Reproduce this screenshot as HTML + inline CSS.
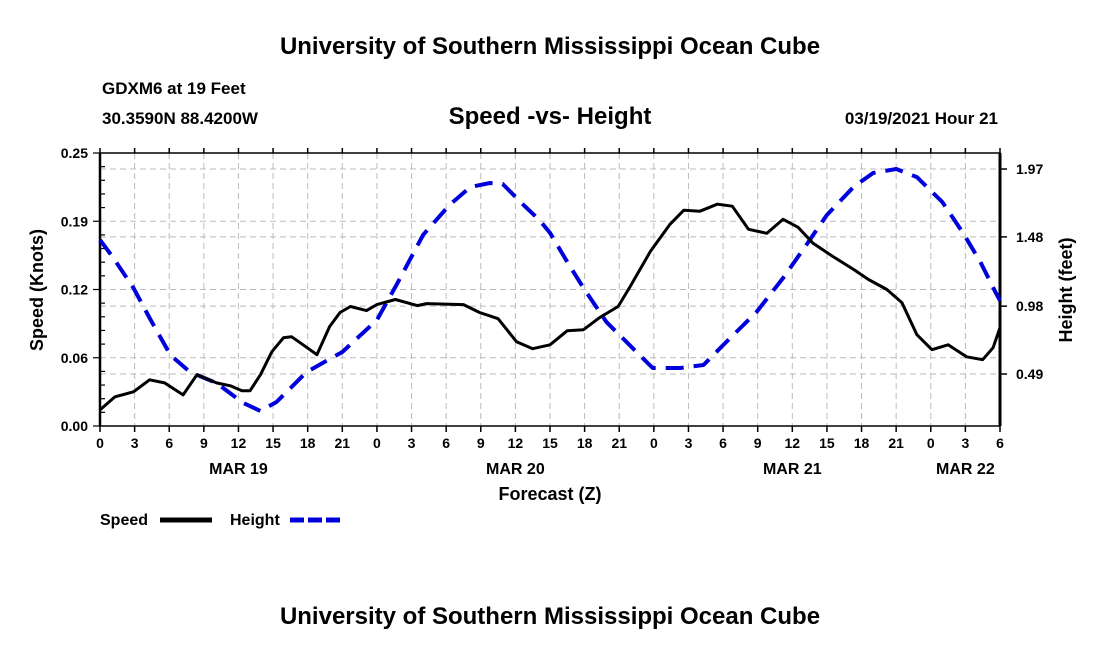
<!DOCTYPE html>
<html><head><meta charset="utf-8"><style>
body{margin:0;background:#fff;}
svg{display:block;font-family:"Liberation Sans",Arial,sans-serif;}
</style></head><body>
<svg id="chart" width="1100" height="650" viewBox="0 0 1100 650">
<text x="550" y="54" text-anchor="middle" font-size="24" font-weight="bold">University of Southern Mississippi Ocean Cube</text>
<text x="102" y="94" font-size="17" font-weight="bold">GDXM6 at 19 Feet</text>
<text x="102" y="124" font-size="17" font-weight="bold">30.3590N 88.4200W</text>
<text x="550" y="124" text-anchor="middle" font-size="24" font-weight="bold">Speed -vs- Height</text>
<text x="998" y="124" text-anchor="end" font-size="17" font-weight="bold">03/19/2021 Hour 21</text>
<g id="grid"></g>
<g id="axes"></g>
<g id="series"></g>
<text transform="translate(43,290) rotate(-90)" text-anchor="middle" font-size="18" font-weight="bold">Speed (Knots)</text>
<text transform="translate(1072,290) rotate(-90)" text-anchor="middle" font-size="18" font-weight="bold">Height (feet)</text>
<text x="550" y="500" text-anchor="middle" font-size="18" font-weight="bold">Forecast (Z)</text>
<g>
<g><text x="100" y="525" font-size="16" font-weight="bold">Speed</text><line x1="160" y1="520" x2="212" y2="520" stroke="#000" stroke-width="5"/></g>
<g><text x="230" y="525" font-size="16" font-weight="bold">Height</text><line x1="290" y1="520" x2="342" y2="520" stroke="#0000dd" stroke-width="5" stroke-dasharray="14,4"/></g>
</g>
<text x="550" y="624" text-anchor="middle" font-size="24" font-weight="bold">University of Southern Mississippi Ocean Cube</text>
</svg>
<script>
const speedHours=[0,1.3,2.9,4.3,5.6,7.2,8.4,10.1,11.3,12.3,13,13.9,14.9,15.9,16.6,17.6,18.8,19.9,20.8,21.7,23.1,24,25.6,27.5,28.3,31.5,32.9,34.5,36.1,37.5,39,40.5,41.9,43.3,44.9,45.9,47.7,49.4,50.6,52,53.5,54.8,56.2,57.8,59.2,60.5,61.8,63.5,65.3,66.6,68.2,69.5,70.8,72.1,73.5,75.1,76.5,77.4,78];
const speedValues=[0.0147,0.0267,0.0313,0.0423,0.0395,0.0285,0.0469,0.0395,0.0368,0.0322,0.0322,0.0469,0.068,0.0809,0.0818,0.0744,0.0653,0.091,0.1039,0.1094,0.1057,0.1112,0.1158,0.1103,0.1121,0.1112,0.1039,0.0983,0.0772,0.0708,0.0744,0.0873,0.0882,0.0993,0.1094,0.1268,0.1599,0.1847,0.1976,0.1967,0.2031,0.2013,0.1801,0.1765,0.1893,0.182,0.1673,0.1553,0.1434,0.1342,0.125,0.113,0.0836,0.0699,0.0744,0.0634,0.0607,0.0717,0.0901];
const heightHours=[0,1.1,2.9,4.3,6.1,7.8,10.1,12.4,13.9,15.3,17.9,21,24,25.7,28,30.3,32.1,33.8,34.9,36.7,38.1,39,40.5,41.9,43.9,45.9,47.9,50.3,52.3,54,56.9,59.2,61.2,63,65.3,67,69,70.8,73,74.8,76.3,77.6,78];
const heightValues=[1.458,1.335,1.111,0.894,0.627,0.504,0.425,0.281,0.223,0.288,0.504,0.649,0.88,1.133,1.494,1.711,1.84,1.869,1.862,1.711,1.6,1.509,1.299,1.111,0.865,0.699,0.533,0.533,0.555,0.699,0.938,1.183,1.421,1.638,1.84,1.941,1.97,1.912,1.732,1.508,1.299,1.082,1.02];
const leftTicks=[0,0.0625,0.125,0.1875,0.25];
const leftTickLabels=["0.00","0.06","0.12","0.19","0.25"];
const rightTicks=[0.49,0.98,1.48,1.97];
const rightTickLabels=["0.49","0.98","1.48","1.97"];
const dayLabels=["MAR 19","MAR 20","MAR 21","MAR 22"];
const dayHours=[12,36,60,75];

const X0=100,X1=1000,YT=153,YB=426,HMAX=78;
const xs=h=>X0+h*(X1-X0)/HMAX;
const yL=v=>YB-v*(YB-YT)/0.25;
const yR=f=>374-(f-0.49)*138.5;
const NS="http://www.w3.org/2000/svg";
function mk(tag,attrs,parent){const e=document.createElementNS(NS,tag);for(const k in attrs)e.setAttribute(k,attrs[k]);parent.appendChild(e);return e;}
const grid=document.getElementById('grid'),axes=document.getElementById('axes'),series=document.getElementById('series');
for(let h=3;h<HMAX;h+=3){const g=mk('line',{x1:xs(h),x2:xs(h),y1:YT,y2:YB,stroke:'#bbb','stroke-width':1,'stroke-dasharray':'6,4'},grid);

}
leftTicks.slice(1,4).forEach(v=>{const g=mk('line',{x1:X0,x2:X1,y1:yL(v),y2:yL(v),stroke:'#bbb','stroke-width':1,'stroke-dasharray':'6,4'},grid);

});
rightTicks.forEach(v=>{const g=mk('line',{x1:X0,x2:X1,y1:yR(v),y2:yR(v),stroke:'#bbb','stroke-width':1,'stroke-dasharray':'6,4'},grid);

});
mk('rect',{x:X0,y:YT,width:X1-X0,height:YB-YT,fill:'none',stroke:'#000','stroke-width':1.5},axes);
mk('line',{x1:X0,x2:X0,y1:YT,y2:YB,stroke:'#000','stroke-width':2.5},axes);
mk('line',{x1:X1,x2:X1,y1:YT,y2:YB,stroke:'#000','stroke-width':3},axes);
for(let h=0;h<=HMAX;h+=3){
 mk('line',{x1:xs(h),x2:xs(h),y1:YB,y2:YB+6,stroke:'#000','stroke-width':1.5},axes);
 mk('line',{x1:xs(h),x2:xs(h),y1:YT,y2:YT-5,stroke:'#000','stroke-width':1.5},axes);
 const t=mk('text',{x:xs(h),y:YB+22,'text-anchor':'middle','font-size':14,'font-weight':'bold'},axes);
 t.textContent=String(h%24);
 
 
}
dayLabels.forEach((d,i)=>{const t=mk('text',{x:xs(dayHours[i]),y:YB+48,'text-anchor':'middle','font-size':16,'font-weight':'bold'},axes);
t.textContent=d;

});
for(let i=0;i<=20;i++){const v=i*0.0125;mk('line',{x1:X0-(i%5==0?7:0),x2:X0+(i%5==0?0:5),y1:yL(v),y2:yL(v),stroke:'#000','stroke-width':1.2},axes);}
leftTicks.forEach((v,i)=>{const t=mk('text',{x:X0-12,y:yL(v)+5,'text-anchor':'end','font-size':14,'font-weight':'bold'},axes);
t.textContent=leftTickLabels[i];

});
rightTicks.forEach((v,i)=>{mk('line',{x1:X1,x2:X1+7,y1:yR(v),y2:yR(v),stroke:'#000','stroke-width':1.5},axes);
const t=mk('text',{x:X1+16,y:yR(v)+5,'font-size':14,'font-weight':'bold'},axes);
t.textContent=rightTickLabels[i];

});
const hp=heightHours.map((h,i)=>xs(h).toFixed(1)+','+yR(heightValues[i]).toFixed(1)).join(' ');
const hl=mk('polyline',{points:hp,fill:'none',stroke:'#0000dd','stroke-width':4,'stroke-dasharray':'18,10','stroke-linejoin':'round'},series);


const sp=speedHours.map((h,i)=>xs(h).toFixed(1)+','+yL(speedValues[i]).toFixed(1)).join(' ');
const sl=mk('polyline',{points:sp,fill:'none',stroke:'#000','stroke-width':3,'stroke-linejoin':'round'},series);


</script>
</body></html>
